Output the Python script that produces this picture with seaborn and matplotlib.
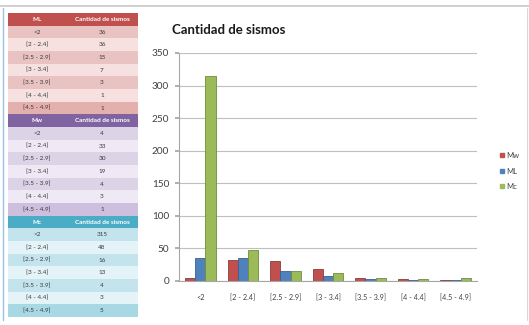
import matplotlib
matplotlib.use("Agg")
import matplotlib.pyplot as plt
from matplotlib.patches import Rectangle
from matplotlib.lines import Line2D
import seaborn as sns
import pandas as pd

# Magnitude ranges and counts per magnitude scale
ranges = ["<2", "[2 - 2.4]", "[2.5 - 2.9]", "[3 - 3.4]", "[3.5 - 3.9]", "[4 - 4.4]", "[4.5 - 4.9]"]
mw_counts = [4, 33, 30, 19, 4, 3, 1]
ml_counts = [36, 36, 15, 7, 3, 1, 1]
mc_counts = [315, 48, 16, 13, 4, 3, 5]
series_names = ["Mw", "ML", "Mc"]
series_colors = {"Mw": "#C0504D", "ML": "#4F81BD", "Mc": "#9BBB59"}
edge_colors = {"Mw": "#8E3A38", "ML": "#3A6190", "Mc": "#728C40"}
y_ticks = [0, 50, 100, 150, 200, 250, 300, 350]

sns.set_theme(style="white")
plt.rcParams["font.family"] = ["Lato", "DejaVu Sans"]

W, H = 529, 325
fig = plt.figure(figsize=(W / 100, H / 100), dpi=100)
fig.patch.set_facecolor("white")


def fx(px):
    return px / W


def fy(py):
    return 1 - py / H


# ---------- chart ----------
df = pd.DataFrame({
    "rango": ranges * 3,
    "escala": sum([[n] * len(ranges) for n in series_names], []),
    "sismos": mw_counts + ml_counts + mc_counts,
})

ax = fig.add_axes([fx(179), fy(281), fx(477) - fx(179), fy(53) - fy(281)])
sns.barplot(data=df, x="rango", y="sismos", hue="escala", order=ranges,
            hue_order=series_names, palette=series_colors, width=0.72,
            ax=ax, legend=False, saturation=1)

# darker outline gives each column a bit of depth
for container, name in zip(ax.containers, series_names):
    for patch in container:
        patch.set_edgecolor(edge_colors[name])
        patch.set_linewidth(0.6)

ax.set_ylim(0, 350)
ax.set_xlim(-0.5, 6.5)
ax.set_yticks(y_ticks)
ax.set_yticklabels([str(v) for v in y_ticks], fontsize=7.2, color="#404040")
ax.set_xticks(range(len(ranges)))
ax.set_xticklabels(ranges, fontsize=5.2, color="#404040")
ax.set_xlabel("")
ax.set_ylabel("")
ax.yaxis.grid(True, color="#BFBFBF", linewidth=0.8)
ax.set_axisbelow(True)
for side in ["top", "right"]:
    ax.spines[side].set_visible(False)
ax.spines["left"].set_color("#A6A6A6")
ax.spines["bottom"].set_color("#A6A6A6")
ax.spines["left"].set_linewidth(0.8)
ax.spines["bottom"].set_linewidth(0.8)
ax.tick_params(axis="y", length=3, color="#A6A6A6", pad=4, left=True)
ax.tick_params(axis="x", length=0, pad=9)

fig.text(fx(172), fy(30), "Cantidad de sismos", fontsize=9.5, fontweight="bold",
         color="#1A1A1A", ha="left", va="center")

handles = [Line2D([0], [0], marker="s", linestyle="", markersize=3.5,
                  markerfacecolor=series_colors[n], markeredgecolor=series_colors[n])
           for n in series_names]
fig.legend(handles, series_names, loc="center left",
           bbox_to_anchor=(fx(492), fy(171)), frameon=False, fontsize=5.5,
           handletextpad=0.2, labelspacing=1.1, handlelength=0.8,
           labelcolor="#404040")

# ---------- summary table on the left ----------
tab = fig.add_axes([fx(8), fy(317), fx(138) - fx(8), fy(13) - fy(317)])
tab.set_xlim(0, 130)
tab.set_ylim(304, 0)
tab.axis("off")

sections = [
    ("ML", ml_counts, "#C0504D", ["#E9C3C2", "#F6E1E0"], "#E4B0AE"),
    ("Mw", mw_counts, "#8064A2", ["#DCD3E7", "#EEE9F4"], "#CDBFDD"),
    ("Mc", mc_counts, "#4BACC6", ["#C3E4ED", "#E4F3F7"], "#A9D8E5"),
]
row_h = 304 / 24
col_split = 58
row = 0
for name, counts, head_col, stripes, last_col in sections:
    y0 = row * row_h
    tab.add_patch(Rectangle((0, y0), 130, row_h, facecolor=head_col, edgecolor="none"))
    tab.text(col_split / 2, y0 + row_h / 2, name, fontsize=4.6, color="white",
             ha="center", va="center", fontweight="bold")
    tab.text((col_split + 130) / 2, y0 + row_h / 2, "Cantidad de sismos", fontsize=4.6,
             color="white", ha="center", va="center", fontweight="bold")
    row += 1
    for i, (lab, val) in enumerate(zip(ranges, counts)):
        y0 = row * row_h
        fc = last_col if i == len(ranges) - 1 else stripes[i % 2]
        tab.add_patch(Rectangle((0, y0), 130, row_h, facecolor=fc, edgecolor="none"))
        tab.text(col_split / 2, y0 + row_h / 2, lab, fontsize=4.6, color="#3A3A3A",
                 ha="center", va="center")
        tab.text((col_split + 130) / 2, y0 + row_h / 2, str(val), fontsize=4.6,
                 color="#3A3A3A", ha="center", va="center")
        row += 1

# page framing lines
fig.add_artist(Line2D([fx(0), fx(529)], [fy(6), fy(6)], color="#C8C8C8", linewidth=1.2))
fig.add_artist(Line2D([fx(3), fx(3)], [fy(8), fy(320)], color="#9CC3E6", linewidth=1.0))
fig.add_artist(Line2D([fx(527), fx(527)], [fy(8), fy(320)], color="#D8D8D8", linewidth=0.8))

fig.savefig("out.png", dpi=100, facecolor="white")
